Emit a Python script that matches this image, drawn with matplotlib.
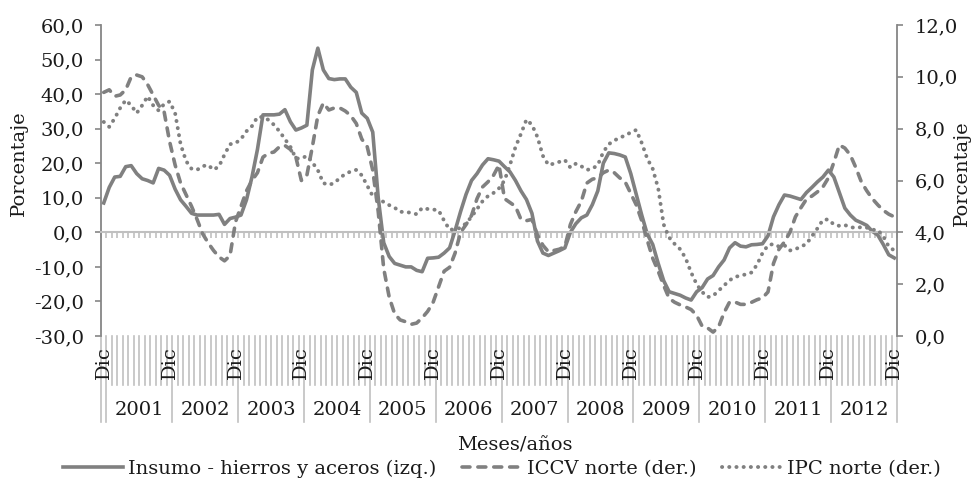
import matplotlib.pyplot as plt
import matplotlib.transforms as mtransforms
from matplotlib.ticker import FuncFormatter
import numpy as np

plt.rcParams['font.family'] = ['DejaVu Serif']

# categories: Dic 2000, then Ene..Dic for 2001-2012
meses = ['Ene', 'Feb', 'Mar', 'Abr', 'May', 'Jun',
         'Jul', 'Ago', 'Sep', 'Oct', 'Nov', 'Dic']
anios = [2001, 2002, 2003, 2004, 2005, 2006, 2007, 2008, 2009, 2010, 2011, 2012]
categorias = [(2000, 'Dic')] + [(a, m) for a in anios for m in meses]

# Insumo - hierros y aceros (izq.), %
insumo = [8.5, 13, 16, 16.2, 19, 19.3, 17, 15.5, 15, 14.3, 18.5, 18, 16.5,
          12.5, 9.4, 7.5, 5.5, 5, 5, 5, 5, 5.2, 2.3, 4, 4.4,
          5, 9.4, 16, 24, 34, 34, 34, 34.2, 35.5, 32, 29.6, 30.2,
          31, 47, 53.3, 47, 44.5, 44.2, 44.4, 44.4, 42, 40.5, 34.5, 33,
          29, 10, -3, -7, -9, -9.5, -10, -10, -11, -11.4, -7.5, -7.4,
          -7.2, -6, -4.5, 0.5, 6, 11, 15, 17, 19.5, 21.3, 21, 20.6,
          19, 17.5, 15, 12, 9.5, 5.5, -2.5, -6, -6.7, -6, -5.3, -4.5,
          0, 2.5, 4.2, 5, 8, 12, 20, 23, 22.8, 22.4, 21.8, 17,
          11, 5, -0.5, -3.5, -9, -14, -17.2, -17.7, -18.2, -19, -19.6, -17.2,
          -16, -13.5, -12.5, -10, -8, -4.5, -3, -4, -4.2, -3.6, -3.5, -3.3,
          -1, 4.5, 8, 10.8, 10.5, 10, 9.5, 11.5, 13, 14.6, 16, 18,
          16, 11.5, 7, 5, 3.5, 2.8, 2, 0.3, -0.8, -3.5, -6.5, -7.4]

# ICCV norte (der.), %
iccv = [9.4, 9.5, 9.25, 9.3, 9.5, 10.0, 10.07, 10.0, 9.7, 9.3, 8.9, 8.65, 7.5,
        6.6, 5.9, 5.45, 5.0, 4.5, 3.95, 3.6, 3.3, 3.05, 2.9, 3.1, 4.4,
        5.0, 5.6, 6.0, 6.3, 6.9, 7.05, 7.1, 7.3, 7.35, 7.2, 6.9, 6.0,
        6.2, 7.3, 8.5, 8.99, 8.72, 8.8, 8.8, 8.68, 8.5, 8.2, 7.6, 7.3,
        6.4, 4.8, 2.6, 1.5, 0.85, 0.62, 0.55, 0.45, 0.5, 0.7, 0.95, 1.3,
        1.9, 2.5, 2.65, 3.2, 4.0, 4.3, 4.65, 5.3, 5.75, 5.95, 6.2, 6.6,
        5.3, 5.15, 5.0, 4.5, 4.45, 4.5, 3.9, 3.5, 3.25, 3.3, 3.35, 3.45,
        4.3, 4.8, 5.2, 5.9, 6.05, 6.1, 6.3, 6.4, 6.3, 6.1, 5.94, 5.5,
        5.06, 4.45, 3.7, 3.0, 2.5, 1.95, 1.45, 1.3, 1.2, 1.12, 1.02, 0.8,
        0.38, 0.31, 0.15, 0.35, 0.9, 1.31, 1.31, 1.22, 1.22, 1.3, 1.4, 1.47,
        1.7, 2.8, 3.35, 3.63, 4.0, 4.6, 4.95, 5.28, 5.4, 5.56, 5.75, 6.1,
        6.7, 7.37, 7.25, 6.98, 6.5, 5.95, 5.6, 5.3, 5.06, 4.85, 4.7, 4.6]

# IPC norte (der.), %
ipc = [8.26, 8.07, 8.4, 8.8, 9.1, 8.9, 8.6, 8.9, 9.25, 8.9, 8.7, 8.95, 9.05,
       8.6, 7.4, 6.75, 6.45, 6.41, 6.55, 6.6, 6.41, 6.55, 7.0, 7.4, 7.44,
       7.6, 7.9, 8.1, 8.45, 8.45, 8.34, 8.15, 7.9, 7.6, 7.3, 6.85, 6.85,
       6.95, 6.7, 6.4, 5.9, 5.83, 5.9, 6.1, 6.25, 6.35, 6.41, 6.2, 5.8,
       5.4, 5.3, 5.17, 5.05, 4.95, 4.79, 4.79, 4.75, 4.7, 4.94, 4.9, 4.88,
       4.85, 4.45, 4.1, 4.12, 4.17, 4.35, 4.6, 4.9, 5.2, 5.4, 5.52, 5.7,
       6.0, 6.6, 7.29, 7.8, 8.35, 8.15, 7.68, 6.95, 6.6, 6.65, 6.72, 6.79,
       6.5, 6.65, 6.55, 6.41, 6.45, 6.6, 7.1, 7.4, 7.55, 7.64, 7.75, 7.85,
       7.95, 7.45, 6.85, 6.45, 5.7, 4.3, 3.8, 3.55, 3.35, 3.0, 2.45, 2.0,
       1.7, 1.5, 1.55, 1.75, 1.95, 2.15, 2.28, 2.33, 2.38, 2.45, 2.75, 3.2,
       3.5, 3.55, 3.45, 3.5, 3.3, 3.35, 3.45, 3.55, 3.85, 4.15, 4.48, 4.5,
       4.3, 4.25, 4.28, 4.2, 4.17, 4.2, 4.18, 4.1, 4.09, 3.85, 3.45, 3.3]

gris = '#808080'
gris_claro = '#c0c0c0'
texto = '#1a1a1a'
fs = 14

fig = plt.figure(figsize=(9.77, 4.91), dpi=100)
ax = fig.add_axes([101 / 977, 1 - 336 / 491, 796 / 977, 311 / 491])
ax2 = ax.twinx()

x = np.arange(len(categorias))
l1, = ax.plot(x, insumo, color=gris, lw=2.6, solid_joinstyle='round',
              label='Insumo - hierros y aceros (izq.)')
l2, = ax2.plot(x, iccv, color=gris, lw=2.6, linestyle=(0, (2.2, 2.2)),
               dash_capstyle='round', label='ICCV norte (der.)')
l3, = ax2.plot(x, ipc, color=gris, lw=2.8, linestyle=(0, (0.05, 1.8)),
               dash_capstyle='round', label='IPC norte (der.)')

ax.set_xlim(-0.5, len(categorias) - 0.5)
ax.set_ylim(-30, 60)
ax2.set_ylim(0, 12)
ax.set_yticks(np.arange(-30, 61, 10))
ax2.set_yticks(np.arange(0, 12.1, 2))

fmt = FuncFormatter(lambda v, p: f'{v:.1f}'.replace('.', ','))
ax.yaxis.set_major_formatter(fmt)
ax2.yaxis.set_major_formatter(fmt)

for a in (ax, ax2):
    a.spines['top'].set_visible(False)
ax.spines['right'].set_visible(False)
ax2.spines['left'].set_visible(False)
ax2.spines['bottom'].set_visible(False)
ax.spines['left'].set_color('#868686')
ax2.spines['right'].set_color('#868686')
ax.spines['left'].set_linewidth(1.3)
ax2.spines['right'].set_linewidth(1.3)
ax.tick_params(axis='y', length=4.5, width=1.2, color='#868686',
               labelsize=fs, labelcolor=texto, pad=8)
ax2.tick_params(axis='y', length=4.5, width=1.2, color='#868686',
                labelsize=fs, labelcolor=texto, pad=8)

# category axis crossing at 0
ax.spines['bottom'].set_position(('data', 0))
ax.spines['bottom'].set_color(gris_claro)
ax.spines['bottom'].set_linewidth(1.5)
limites = np.arange(-0.5, len(categorias), 1)
ax.set_xticks(limites)
ax.tick_params(axis='x', length=4.5, width=1.2, color=gris_claro,
               labelbottom=False)
ax2.tick_params(axis='x', bottom=False, labelbottom=False)

# multi-level labels below the plot area
trans = mtransforms.blended_transform_factory(ax.transData, ax.transAxes)
y_corto = -49 / 311
y_largo = -86 / 311
cortes_anio = [-0.5, 0.5] + [0.5 + 12 * (k + 1) for k in range(len(anios))]
for b in limites:
    y_fin = y_largo if b in cortes_anio else y_corto
    ax.plot([b, b], [0, y_fin], transform=trans, clip_on=False,
            color=gris_claro, lw=1.2)
for i, (a, m) in enumerate(categorias):
    if m == 'Dic':
        ax.text(i, -10 / 311, m, transform=trans, rotation=90,
                ha='center', va='top', fontsize=fs, color=texto)
for k, a in enumerate(anios):
    centro = (cortes_anio[k + 1] + cortes_anio[k + 2]) / 2
    ax.text(centro, -74 / 311, str(a), transform=trans, ha='center',
            va='center', fontsize=fs, color=texto)

ax.set_ylabel('Porcentaje', fontsize=fs, color=texto)
ax.yaxis.set_label_coords(-73 / 796, 0.556)
ax2.set_ylabel('Porcentaje', fontsize=fs, color=texto)
ax2.yaxis.set_label_coords(1 + 56 / 796, 0.524)

fig.text(515 / 977, 1 - 445 / 491, 'Meses/años', ha='center', va='center',
         fontsize=fs, color=texto)

fig.legend(handles=[l1, l2, l3], loc='center', ncol=3, frameon=False,
           bbox_to_anchor=(502 / 977, 1 - 469 / 491), fontsize=fs,
           handlelength=3.1, handletextpad=0.26, columnspacing=1.3,
           labelcolor=texto)

fig.savefig('out.png', dpi=100)
